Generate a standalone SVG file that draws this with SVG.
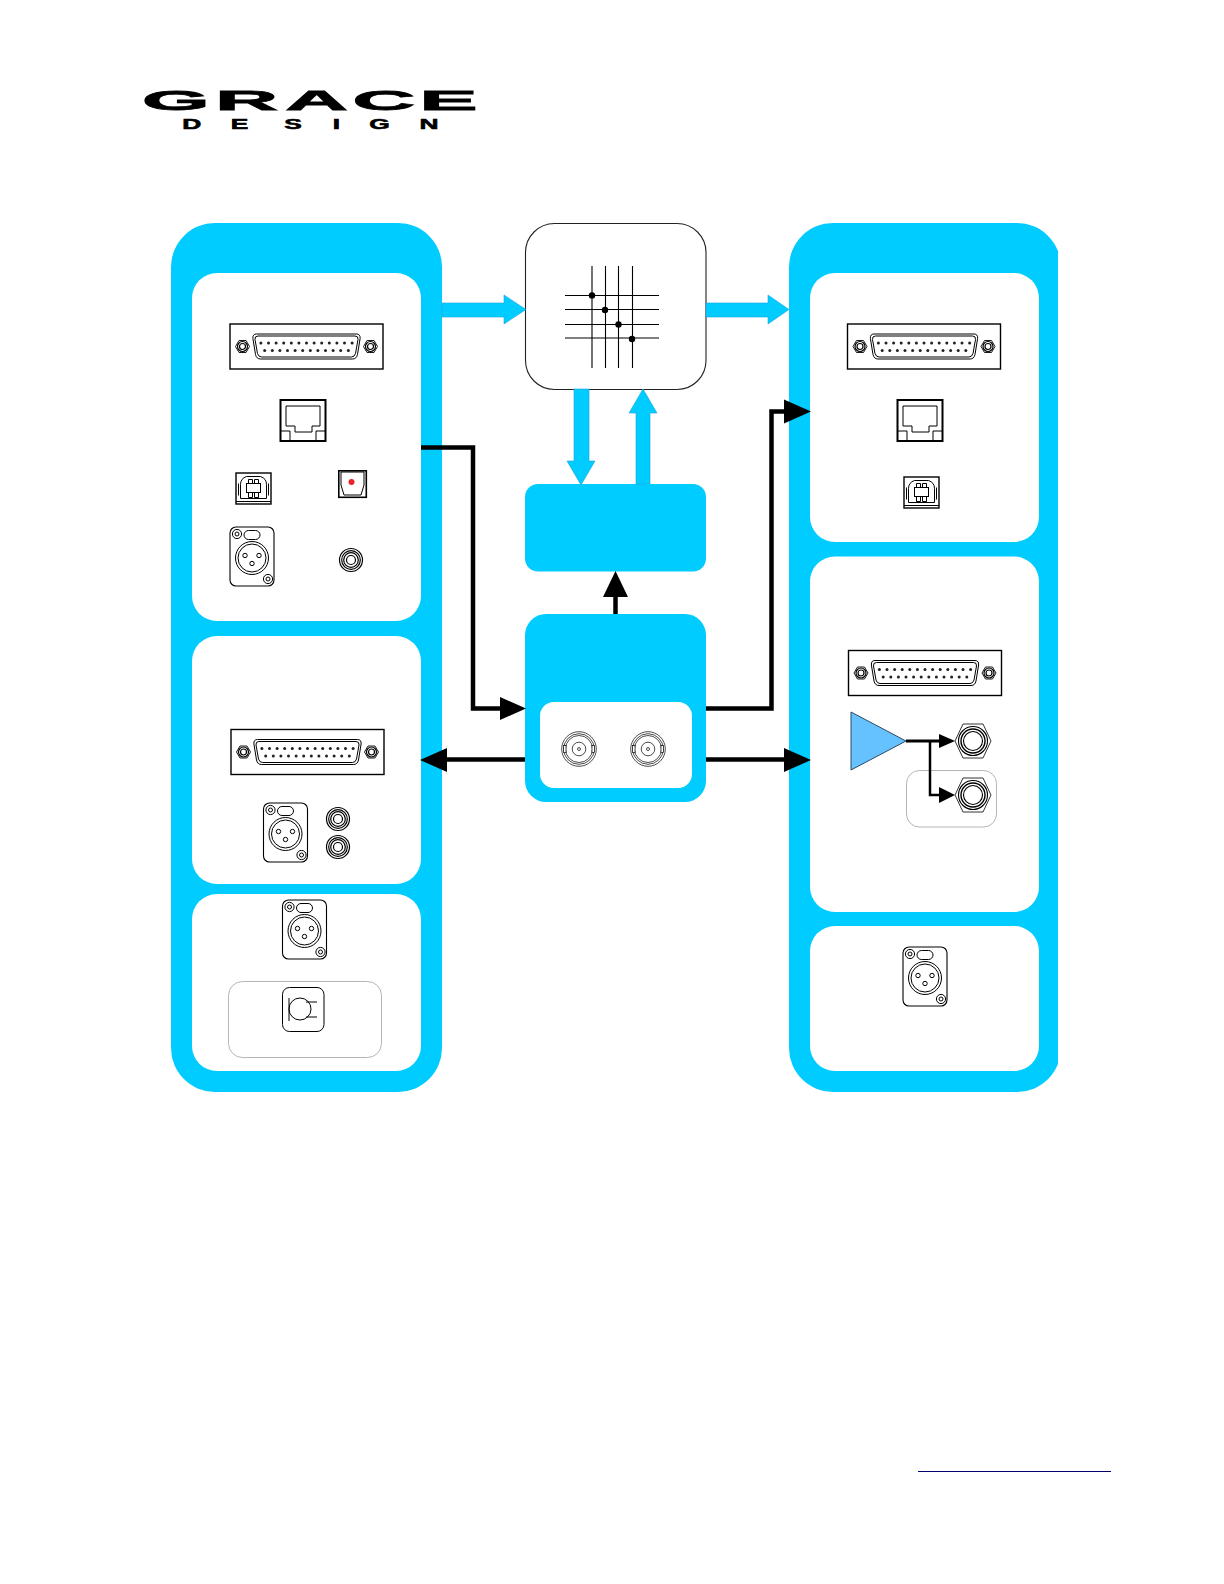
<svg xmlns="http://www.w3.org/2000/svg" xmlns:xlink="http://www.w3.org/1999/xlink" width="1224" height="1584" viewBox="0 0 1224 1584">
<style>
.blue{fill:#00ccff}
.white{fill:#fff}
.ln{fill:none;stroke:#000;stroke-width:1}
.lnw{fill:#fff;stroke:#000;stroke-width:1}
.thick{fill:#fff;stroke:#000;stroke-width:1.6}
.wire{fill:none;stroke:#000;stroke-width:4.5}
.soft{fill:none;stroke:#b5b5b5;stroke-width:1}
.logo{font-family:"Liberation Sans",Arial,sans-serif;font-weight:700;fill:#000;stroke:#000}
.pin{fill:#222}
.flow{fill:#00ccff;stroke:#1aa6d8;stroke-width:.6}
</style>
<defs>
<clipPath id="rightClip"><rect x="780" y="215" width="278" height="890"/></clipPath>
<g id="dsub">
<rect x="-76.500" y="-22.500" width="153" height="45" fill="#fff" stroke="#000" stroke-width="1.400"/>
<g class="ln"><path d="M-71 0L-67.500-6H-60.500L-57 0L-60.500 6H-67.500ZM57 0L60.500-6H67.500L71 0L67.500 6H60.500Z" style="stroke-width:.9"/><circle cx="-64" cy="0" r="5" style="stroke-width:1.200"/><circle cx="-64" cy="0" r="3" style="stroke-width:1.200"/><circle cx="64" cy="0" r="5" style="stroke-width:1.200"/><circle cx="64" cy="0" r="3" style="stroke-width:1.200"/>
<path d="M-50-12.500H50Q54-12.500 53.600-8L51 8Q50 12.500 46 12.500H-46Q-50 12.500-51 8L-53.600-8Q-54-12.500-50-12.500Z"/>
<path d="M-48.500-10.500H48.500Q52-10.500 51.500-7L49 7Q48 10.500 45 10.500H-45Q-48 10.500-49 7L-51.500-7Q-52-10.500-48.500-10.500Z"/></g>
<g class="pin"><circle cx="-45.600" cy="-3.500" r="1.500"/><circle cx="-38" cy="-3.500" r="1.500"/><circle cx="-30.400" cy="-3.500" r="1.500"/><circle cx="-22.800" cy="-3.500" r="1.500"/><circle cx="-15.200" cy="-3.500" r="1.500"/><circle cx="-7.600" cy="-3.500" r="1.500"/><circle cx="0" cy="-3.500" r="1.500"/><circle cx="7.600" cy="-3.500" r="1.500"/><circle cx="15.200" cy="-3.500" r="1.500"/><circle cx="22.800" cy="-3.500" r="1.500"/><circle cx="30.400" cy="-3.500" r="1.500"/><circle cx="38" cy="-3.500" r="1.500"/><circle cx="45.600" cy="-3.500" r="1.500"/>
<circle cx="-41.800" cy="4" r="1.500"/><circle cx="-34.200" cy="4" r="1.500"/><circle cx="-26.600" cy="4" r="1.500"/><circle cx="-19" cy="4" r="1.500"/><circle cx="-11.400" cy="4" r="1.500"/><circle cx="-3.800" cy="4" r="1.500"/><circle cx="3.800" cy="4" r="1.500"/><circle cx="11.400" cy="4" r="1.500"/><circle cx="19" cy="4" r="1.500"/><circle cx="26.600" cy="4" r="1.500"/><circle cx="34.200" cy="4" r="1.500"/><circle cx="41.800" cy="4" r="1.500"/></g>
</g>
<g id="rj45">
<rect x="-22.500" y="-20" width="45" height="41" fill="#fff" stroke="#000" stroke-width="2"/>
<path class="ln" d="M-17-14H17V6H9V12H-8V6H-17Z"/>
<path class="ln" d="M-22 11H-13V20M22 11H13V20"/>
</g>
<g id="usb">
<rect x="-17.500" y="-15.500" width="35" height="31" fill="#fff" stroke="#000" stroke-width="1.400"/>
<path class="ln" d="M-17.500 13H17.500"/>
<path class="ln" d="M-7-12Q-13-10-13-4V10H13V-4Q13-10 7-12Z"/>
<path class="ln" d="M-15-5V7M15-5V7"/>
<rect class="lnw" x="-7" y="-5" width="14" height="9"/>
<path class="ln" d="M-5-9H-1V-5H-5ZM1-9H5V-5H1ZM-5 4H-1V9H-5ZM1 4H5V9H1Z"/>
</g>
<g id="xlr">
<rect x="-22" y="-29.500" width="44" height="59" rx="6" fill="#fff" stroke="#000" stroke-width="1.100"/>
<g class="ln">
<circle cx="0" cy="1.500" r="16.500"/><circle cx="0" cy="1.500" r="14"/>
<circle cx="-15" cy="-22.500" r="4.600"/><circle cx="-15" cy="-22.500" r="2"/>
<circle cx="16" cy="22.500" r="4.600"/><circle cx="16" cy="22.500" r="2"/>
<rect x="-8" y="-26" width="16" height="9" rx="4.500"/>
<circle cx="-7" cy="-1" r="2.200"/><circle cx="7" cy="-1" r="2.200"/><circle cx="0" cy="7" r="2.200"/>
</g></g>
<g id="rca" class="ln" style="stroke-width:1.200">
<circle r="11.500"/><circle r="9.300"/><circle r="7.300"/><circle r="4.500"/>
</g>
<g id="bnc" class="ln" style="stroke-width:.7">
<circle r="17.300"/><circle r="15.300"/><circle r="13.500"/><circle r="6.800"/><circle r="1.500"/>
<rect x="-15.500" y="-3.500" width="2.500" height="7" fill="#fff"/><rect x="13" y="-3.500" width="2.500" height="7" fill="#fff"/>
</g>
<g id="jack">
<path class="lnw" d="M-18 0L-10-17H10L18 0L10 17H-10Z" style="stroke-width:.8"/>
<circle r="14.500" class="thick" style="stroke-width:1.100"/><circle r="12" class="ln" style="stroke-width:1.400"/><circle r="9.500" class="thick" style="stroke-width:1.100"/>
</g>
</defs>

<g id="logo">
<text class="logo" transform="translate(145,110) scale(3.05,1)" font-size="28.500" stroke-width=".8" x="-1 23 46 68 90">GRACE</text>
<text class="logo" transform="translate(184,129) scale(1.7,1)" font-size="15.500" stroke-width=".6" x="-1 27.500 59 87.500 109 138.500">DESIGN</text>
</g>

<g id="input-panel">
<rect class="blue" x="171" y="223" width="271" height="869" rx="44"/>
<g id="input-digital">
<rect class="white" x="192" y="273" width="229" height="348" rx="25"/>
<use href="#dsub" x="306.500" y="346.500"/>
<use href="#rj45" x="303" y="420"/>
<use href="#usb" x="253.500" y="488.500"/>
<rect x="338.800" y="470.800" width="27.500" height="26.500" fill="#fff" stroke="#000" stroke-width="1.600"/>
<path class="ln" d="M341 472H364V485L361 495H344L341 485Z"/>
<circle cx="351.500" cy="482" r="3" fill="#e8232a"/>
<use href="#xlr" x="252" y="556.500"/>
<use href="#rca" x="351" y="560"/>
</g>
<g id="input-analog">
<rect class="white" x="192" y="636" width="229" height="248" rx="25"/>
<use href="#dsub" x="307.500" y="752"/>
<use href="#xlr" x="285.500" y="832.500"/>
<use href="#rca" x="338" y="819"/>
<use href="#rca" x="338" y="847"/>
</g>
<g id="input-mic">
<rect class="white" x="192" y="894" width="229" height="177" rx="25"/>
<use href="#xlr" x="304.500" y="929.500"/>
<rect class="soft" x="228.500" y="981.500" width="153" height="76" rx="14"/>
<rect class="lnw" x="282.500" y="987.500" width="41.500" height="44" rx="7"/>
<circle class="ln" cx="300" cy="1009" r="11"/>
<path class="ln" d="M289 998V1021M306 1002H317M306 1017H317"/>
</g>
</g>

<g id="output-panel">
<g clip-path="url(#rightClip)"><rect class="blue" x="789" y="223" width="272" height="869" rx="44"/></g>
<g id="output-digital">
<rect class="white" x="810" y="273" width="229" height="269" rx="25"/>
<use href="#dsub" x="924" y="346.500"/>
<use href="#rj45" x="920" y="420"/>
<use href="#usb" x="921.500" y="492.500"/>
</g>
<g id="output-analog">
<rect class="white" x="810" y="556.500" width="229" height="355.500" rx="25"/>
<use href="#dsub" x="925" y="673"/>
<path d="M851 712L906 741L851 770Z" fill="#66c2ff" stroke="#2b4a66" stroke-width="1"/>
<rect class="soft" x="906.500" y="770.500" width="90" height="56.500" rx="13"/>
<use href="#jack" x="973" y="741"/>
<use href="#jack" x="973" y="795"/>
</g>
<g id="output-mon">
<rect class="white" x="810" y="926" width="229" height="145" rx="25"/>
<use href="#xlr" x="925" y="976.500"/>
</g>
</g>

<g id="matrix">
<rect x="525.500" y="223.500" width="180.500" height="166" rx="29" fill="#fff" stroke="#222" stroke-width="1.100"/>
<path d="M592 266V368M605.500 266V368M618.500 266V368M632.500 266V368M565 295.500H659M565 309.500H659M565 324.500H659M565 338H659" fill="none" stroke="#000" stroke-width="1.100"/>
<circle cx="592" cy="295.500" r="3.200"/><circle cx="605" cy="310" r="3.200"/><circle cx="618.500" cy="324.500" r="3.200"/><circle cx="632" cy="339" r="3.200"/>
</g>

<g id="dsp"><rect class="blue" x="525" y="484" width="181" height="87.500" rx="13"/></g>

<g id="clock">
<rect class="blue" x="525" y="614" width="181" height="188" rx="21"/>
<rect class="white" x="540" y="702" width="152" height="86" rx="14"/>
<use href="#bnc" x="579" y="749"/>
<use href="#bnc" x="648" y="749"/>
</g>

<g id="connectors">
<path class="flow" d="M442 303H504V295L526 309.500L504 324V317H442Z"/>
<path class="flow" d="M706 303H768V295L789 309.500L768 324V317H706Z"/>
<path class="flow" d="M574 389H589V461H595L581 485L567 461H574Z"/>
<path class="flow" d="M636 484V413H629L643 389L657 413H650V484Z"/>
<g class="wire">
<path d="M421 447.500H473V708.500H502"/>
<path d="M706 708.500H771.500V411.500H786"/>
<path d="M706 759.500H786"/>
<path d="M525 759.500H445"/>
<path d="M615.500 614V594"/>
<path d="M906 741H940" stroke-width="3"/>
<path d="M930 741V795H940" stroke-width="2.500"/>
</g>
<path d="M500 697L526 708.500L500 720Z"/>
<path d="M784 399.500L811 411.500L784 423.500Z"/>
<path d="M784 748L811 760L784 772Z"/>
<path d="M447 748L420 760L447 772Z"/>
<path d="M603 597L615.500 571L628 597Z"/>
<path d="M939 734L955 741L939 748Z"/>
<path d="M939 787L955 795L939 803Z"/>
</g>

<path id="link-rule" d="M918 1471.500H1111" stroke="#00006e" stroke-width="1"/>
</svg>
